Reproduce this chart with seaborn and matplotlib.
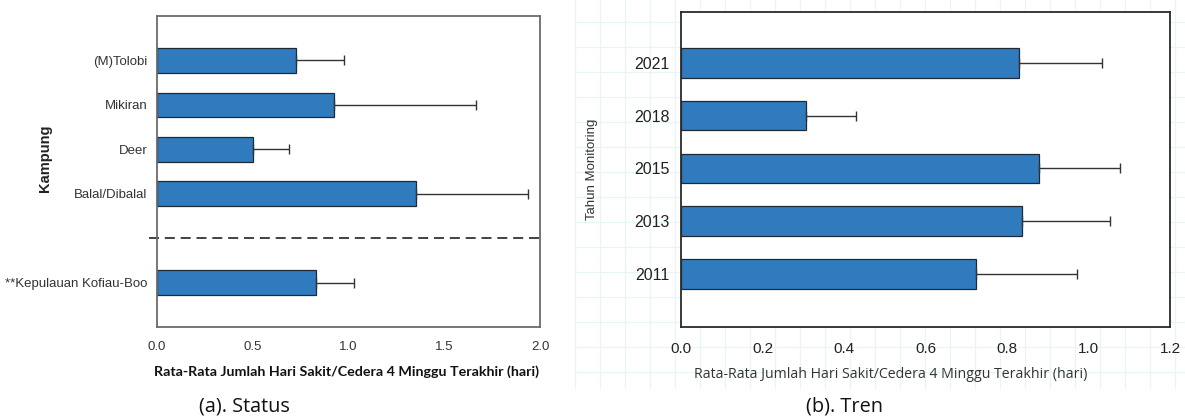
import numpy as np
import pandas as pd
import matplotlib
matplotlib.use("Agg")
import matplotlib.pyplot as plt
import seaborn as sns

# (a) status per kampung
kampung = ["(M)Tolobi", "Mikiran", "Deer", "Balal/Dibalal", "**Kepulauan Kofiau-Boo"]
status_mean = [0.728, 0.924, 0.503, 1.353, 0.830]
status_sd = [0.251, 0.744, 0.187, 0.582, 0.198]
status_order = ["(M)Tolobi", "Mikiran", "Deer", "Balal/Dibalal", " ", "**Kepulauan Kofiau-Boo"]

# (b) tren per tahun monitoring
tahun = ["2021", "2018", "2015", "2013", "2011"]
tren_mean = [0.830, 0.306, 0.879, 0.837, 0.724]
tren_sd = [0.203, 0.124, 0.198, 0.215, 0.248]

XLABEL = "Rata-Rata Jumlah Hari Sakit/Cedera 4 Minggu Terakhir (hari)"
BAR = "#2f7bbd"

sns.set_style("white")
plt.rcParams["font.family"] = ["Liberation Sans", "DejaVu Sans"]

W, H = 1185, 419
fig = plt.figure(figsize=(W / 100, H / 100), dpi=100)

# faint graph-paper background behind panel (b)
bg = fig.add_axes([0, 0, 1, 1], zorder=-5)
bg.set_xlim(0, W)
bg.set_ylim(H, 0)
bg.axis("off")
for gx in np.arange(575, W, 25):
    bg.plot([gx, gx], [0, 388], color="#e8f4f6", lw=0.9)
for gy in np.arange(22, 390, 25):
    bg.plot([575, W], [gy, gy], color="#e8f4f6", lw=0.9)


def pix_axes(x0, y0, x1, y1):
    return fig.add_axes([x0 / W, 1 - y1 / H, (x1 - x0) / W, (y1 - y0) / H])


# ---------- (a) Status ----------
ax1 = pix_axes(157, 16, 540, 327)
df1 = pd.DataFrame({"kampung": kampung, "mean": status_mean})
sns.barplot(data=df1, x="mean", y="kampung", order=status_order, orient="h",
            color=BAR, edgecolor="#1f2a36", linewidth=0.9, width=0.55,
            saturation=1, errorbar=None, ax=ax1)
pos1 = [status_order.index(k) for k in kampung]
ax1.errorbar(status_mean, pos1, xerr=[np.zeros(len(kampung)), status_sd],
             fmt="none", ecolor="#333333", elinewidth=1, capsize=3.5, capthick=1)
ax1.axhline(4, xmin=-0.02, xmax=1, ls=(0, (6, 3.5)), color="#222222", lw=1.2, clip_on=False)
ax1.set_xlim(0, 2.0)
ax1.set_ylim(6, -1)
ax1.set_xticks(np.arange(0, 2.01, 0.5))
ax1.set_xticklabels([f"{v:.1f}" for v in np.arange(0, 2.01, 0.5)])
ax1.set_yticks(pos1)
ax1.set_yticklabels(kampung)
ax1.tick_params(axis="both", direction="out", length=4, width=1, color="#555555",
                labelsize=9.5, labelcolor="#333333", pad=3)
ax1.tick_params(axis="x", pad=6)
for s in ax1.spines.values():
    s.set_color("#6b6b6b")
    s.set_linewidth(1.3)
ax1.set_xlabel("")
ax1.set_ylabel("")
fig.text(45 / W, 1 - 158 / H, "Kampung", rotation=90, ha="center", va="center",
         fontsize=10.5, fontweight="bold", color="#222222")
fig.text(347 / W, 1 - 372 / H, XLABEL, ha="center", va="center",
         fontsize=10.3, fontweight="bold", family=["Lato", "DejaVu Sans"], color="#111111")

# ---------- (b) Tren ----------
ax2 = pix_axes(681, 12, 1170, 327)
df2 = pd.DataFrame({"tahun": tahun, "mean": tren_mean})
sns.barplot(data=df2, x="mean", y="tahun", order=tahun, orient="h",
            color=BAR, edgecolor="#1f2a36", linewidth=0.9, width=0.56,
            saturation=1, errorbar=None, ax=ax2)
ax2.errorbar(tren_mean, range(len(tahun)), xerr=[np.zeros(len(tahun)), tren_sd],
             fmt="none", ecolor="#333333", elinewidth=1, capsize=3.5, capthick=1)
ax2.set_xlim(0, 1.2)
ax2.set_ylim(5, -0.96)
ax2.set_xticks(np.arange(0, 1.21, 0.2))
ax2.set_xticklabels([f"{v:.1f}" for v in np.arange(0, 1.21, 0.2)])
ax2.tick_params(axis="both", direction="out", length=4, width=1, color="#333333",
                labelsize=11.5, labelcolor="#222222", pad=4)
ax2.tick_params(axis="x", labelsize=11, pad=7)
for s in ax2.spines.values():
    s.set_color("#2a2a2a")
    s.set_linewidth(1.3)
ax2.set_xlabel("")
ax2.set_ylabel("")
fig.text(592 / W, 1 - 169 / H, "Tahun Monitoring", rotation=90, ha="center", va="center",
         fontsize=9.5, color="#333333")
fig.text(891 / W, 1 - 374 / H, XLABEL, ha="center", va="center",
         fontsize=10.2, family=["Open Sans", "DejaVu Sans"], color="#333333")

# captions
fig.text(244 / W, 1 - 406 / H, "(a). Status", ha="center", va="center",
         fontsize=14.3, family=["Open Sans", "DejaVu Sans"], color="#111111")
fig.text(845 / W, 1 - 406 / H, "(b). Tren", ha="center", va="center",
         fontsize=14.3, family=["Open Sans", "DejaVu Sans"], color="#111111")

fig.savefig("out.png", dpi=100, facecolor="white")
